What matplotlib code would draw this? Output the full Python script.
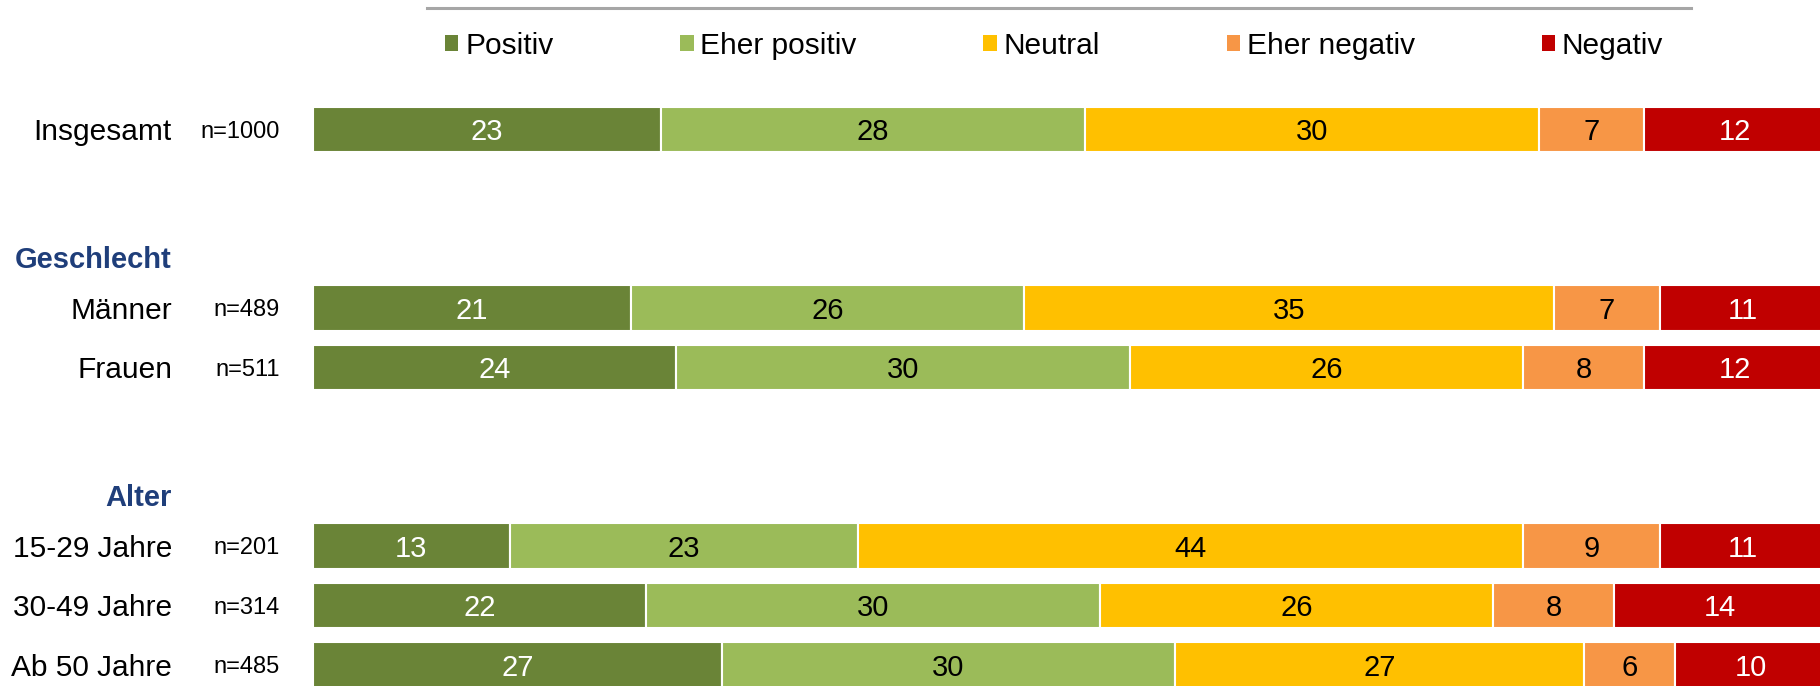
import numpy as np
import matplotlib
matplotlib.use("Agg")
import matplotlib.pyplot as plt
from matplotlib.patches import Patch
from matplotlib.lines import Line2D
import matplotlib.transforms as mtransforms

plt.rcParams['font.family'] = ['Liberation Sans', 'DejaVu Sans']

# daten
groups = ["Insgesamt", "Männer", "Frauen", "15-29 Jahre", "30-49 Jahre", "Ab 50 Jahre"]
n_labels = ["n=1000", "n=489", "n=511", "n=201", "n=314", "n=485"]
headers = ["Geschlecht", "Alter"]
categories = ["Positiv", "Eher positiv", "Neutral", "Eher negativ", "Negativ"]
positiv = [23, 21, 24, 13, 22, 27]
eher_positiv = [28, 26, 30, 23, 30, 30]
neutral = [30, 35, 26, 44, 26, 27]
eher_negativ = [7, 7, 8, 9, 8, 6]
negativ = [12, 11, 12, 11, 14, 10]

# layout
row_pos = [0, 3, 4, 7, 8, 9]
header_pos = [2.15, 6.15]
colors = ["#6A8437", "#9BBB59", "#FFC000", "#F79646", "#C00000"]
text_colors = ["white", "black", "black", "black", "white"]

W, H = 1820, 686
fig = plt.figure(figsize=(W / 100, H / 100), dpi=100)
left_px = 313
ax = fig.add_axes([left_px / W, 0, 1 - left_px / W, 1])
ax.set_xlim(0, 99.6)
ax.set_ylim(9.353, -2.176)
ax.axis("off")

series = [positiv, eher_positiv, neutral, eher_negativ, negativ]
left = np.zeros(len(groups))
for vals, col, tcol in zip(series, colors, text_colors):
    vals = np.array(vals, dtype=float)
    ax.barh(row_pos, vals, left=left, height=0.77, color=col,
            edgecolor="white", linewidth=1.5)
    for y, l, v in zip(row_pos, left, vals):
        ax.text(l + v / 2, y, "%d" % v, ha="center", va="center_baseline",
                fontsize=21, color=tcol)
    left += vals

trans = mtransforms.blended_transform_factory(fig.transFigure, ax.transData)
for y, g, n in zip(row_pos, groups, n_labels):
    ax.text(172 / W, y, g, transform=trans, ha="right", va="center_baseline",
            fontsize=21.5, color="black", clip_on=False)
    ax.text(280 / W, y, n, transform=trans, ha="right", va="center_baseline",
            fontsize=17, color="black", clip_on=False)
for y, h in zip(header_pos, headers):
    ax.text(172 / W, y, h, transform=trans, ha="right", va="center_baseline",
            fontsize=21, fontweight="bold", color="#1F3E7A", clip_on=False)

# linie oben
fig.add_artist(Line2D([427 / W, 1691 / W], [1 - 8 / H, 1 - 8 / H],
                      color="#A6A6A6", linewidth=2.2, transform=fig.transFigure))

# legende
handles = [Patch(facecolor=c, edgecolor="none") for c in colors]
fig.legend(handles, categories, loc="center left",
           bbox_to_anchor=(445 / W, 1 - 46 / H), ncol=5, frameon=False,
           fontsize=21.5, handlelength=0.45, handleheight=0.45,
           handletextpad=0.22, columnspacing=4.25, borderpad=0,
           borderaxespad=0)

fig.savefig("out.png", dpi=100)
